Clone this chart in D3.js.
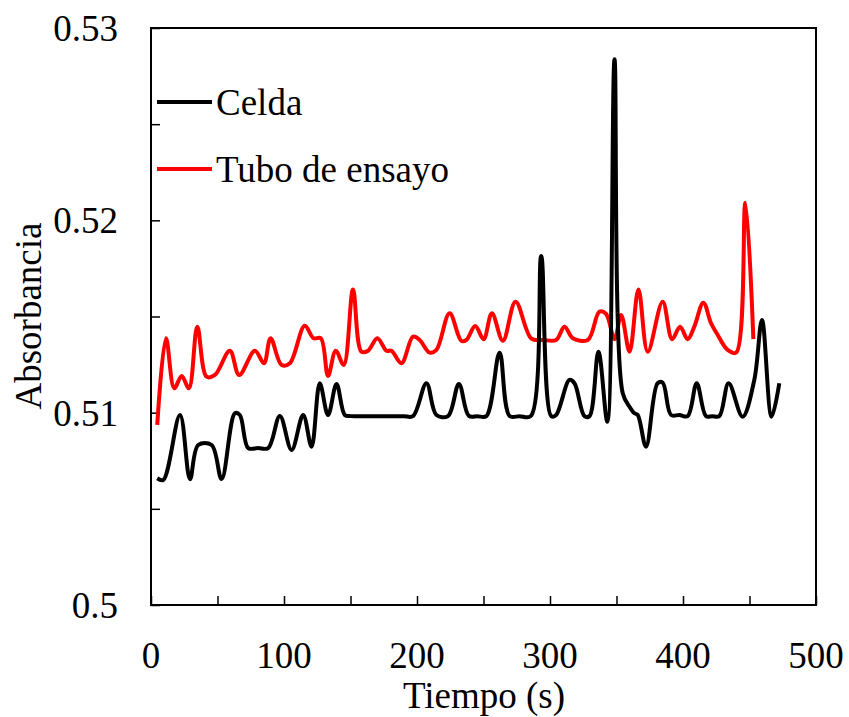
<!DOCTYPE html>
<html><head><meta charset="utf-8">
<script src="https://cdn.jsdelivr.net/npm/d3@7"></script>
<style>
html,body{margin:0;padding:0;background:#fff;}
text{font-family:"Liberation Serif","Times New Roman",serif;fill:#000;}
</style></head>
<body><svg id="c" width="849" height="717"></svg>
<script>
// Celda (black)
const celdaT = [4.7,9.2,21.8,29.3,35.5,45.6,53.1,63.1,66.8,73.1,80.5,88.1,96.9,105.7,114.4,120.7,126.9,133.1,139.5,145.7,150,160,170,180,190,197,207.1,214.6,223.3,231.5,239,245.5,252.1,262.1,269.6,277,285.5,293.4,300.9,304.6,314.6,318.4,325.9,329.7,336.4,343.1,348.5,354.7,359.8,363.5,366,372.2,380.9,384.7,391,397.3,403.5,410.3,417.3,422,427.3,434.3,444.8,453.6,459.4,466.6,472.4];
const celdaA = [0.50659,0.50650,0.50988,0.50654,0.50832,0.50832,0.50655,0.50997,0.50988,0.50816,0.50816,0.50816,0.50983,0.50806,0.50988,0.50823,0.51153,0.50988,0.51149,0.50988,0.50982,0.50982,0.50982,0.50982,0.50982,0.50982,0.51153,0.50988,0.50982,0.51149,0.50983,0.50982,0.50982,0.51312,0.50983,0.50982,0.50982,0.51815,0.50982,0.50988,0.51170,0.51153,0.50982,0.50982,0.51317,0.50953,0.52837,0.51101,0.51031,0.50997,0.50988,0.50823,0.51153,0.51156,0.50988,0.50988,0.50982,0.51153,0.50982,0.50982,0.50982,0.51153,0.50979,0.51170,0.51482,0.50979,0.51153];
// Tubo de ensayo (red)
const tuboT = [4.7,11.3,17.5,23.1,28.5,34.8,41.8,48.1,59.3,66.3,78.1,84.9,89.9,98.2,104.4,115.6,122.2,127.7,133.1,138.9,144.9,151.9,158.2,163.2,170.2,177,180.8,188.3,197,202,209.5,214.6,224.5,233.3,237.1,243.8,250.1,256.3,264.6,274.1,286,295,304.6,310.9,317.2,328.4,337.2,342.2,348.5,353.5,359.8,366.5,373.5,384.7,391.8,397.8,403.5,408.5,415.3,421.1,426.1,433.6,439.9,446.9,452.9];
const tuboA = [0.50936,0.51387,0.51127,0.51191,0.51127,0.51447,0.51187,0.51196,0.51322,0.51196,0.51322,0.51257,0.51387,0.51248,0.51257,0.51452,0.51387,0.51387,0.51191,0.51322,0.51248,0.51641,0.51317,0.51322,0.51387,0.51322,0.51322,0.51257,0.51395,0.51378,0.51312,0.51326,0.51517,0.51374,0.51378,0.51451,0.51382,0.51517,0.51374,0.51577,0.51385,0.51378,0.51378,0.51447,0.51387,0.51378,0.51525,0.51513,0.51382,0.51508,0.51317,0.51641,0.51317,0.51577,0.51382,0.51447,0.51382,0.51447,0.51572,0.51465,0.51404,0.51326,0.51312,0.52092,0.51382];
const xTicks = [0,100,200,300,400,500];
const yTicks = [0.5,0.51,0.52,0.53];
const seriesNames = ["Celda","Tubo de ensayo"];
const seriesColors = ["#000000","#ff0000"];

const svg = d3.select("#c");
const L=151,R=816,T=28,B=605;
const x = d3.scaleLinear().domain([0,500]).range([L,R]);
const y = d3.scaleLinear().domain([0.5,0.53]).range([B,T]);
const fs = 37;

// frame
svg.append("rect").attr("x",L).attr("y",T).attr("width",R-L).attr("height",B-T)
  .attr("fill","none").attr("stroke","#000").attr("stroke-width",2);

// y axis ticks (inward)
const yAxis = d3.axisRight(y).tickValues(d3.range(0.5,0.5301,0.005)).tickSize(9).tickFormat("");
const gy = svg.append("g").attr("transform",`translate(${L},0)`).call(yAxis);
gy.select(".domain").remove();
gy.selectAll("line").attr("stroke","#000").attr("stroke-width",1.5);
svg.append("g").selectAll("text").data(yTicks).join("text")
  .attr("x",L-33).attr("y",d=>y(d)).attr("dy","0.35em").attr("text-anchor","end")
  .attr("font-size",fs).text(d=>d3.format("")(+d.toFixed(2)));

// x axis ticks (inward)
const xAxis = d3.axisTop(x).tickValues(d3.range(0,501,50)).tickSize(9).tickFormat("");
const gx = svg.append("g").attr("transform",`translate(0,${B})`).call(xAxis);
gx.select(".domain").remove();
gx.selectAll("line").attr("stroke","#000").attr("stroke-width",1.5);
svg.append("g").selectAll("text").data(xTicks).join("text")
  .attr("x",d=>x(d)).attr("y",655).attr("dy","0.35em").attr("text-anchor","middle")
  .attr("font-size",fs).text(d=>d);

// axis titles
svg.append("text").attr("x",484).attr("y",695).attr("dy","0.35em").attr("text-anchor","middle")
  .attr("font-size",fs).text("Tiempo (s)");
svg.append("text").attr("transform","translate(28,316) rotate(-90)").attr("dy","0.35em")
  .attr("text-anchor","middle").attr("font-size",fs).text("Absorbancia");

// lines
const line = d3.line().x(d=>x(d[0])).y(d=>y(d[1])).curve(d3.curveCatmullRom.alpha(0.5));
const celda = celdaT.map((t,i)=>[t,celdaA[i]]);
const tubo = tuboT.map((t,i)=>[t,tuboA[i]]);
svg.append("path").datum(tubo).attr("d",line).attr("fill","none").attr("stroke",seriesColors[1]).attr("stroke-width",4).attr("stroke-linejoin","round");
svg.append("path").datum(celda).attr("d",line).attr("fill","none").attr("stroke",seriesColors[0]).attr("stroke-width",4).attr("stroke-linejoin","round");

// legend
const lg = svg.append("g");
[102,169].forEach((yy,i)=>{
  lg.append("line").attr("x1",157).attr("x2",212).attr("y1",yy).attr("y2",yy)
    .attr("stroke",seriesColors[i]).attr("stroke-width",4);
  lg.append("text").attr("x",216).attr("y",yy).attr("dy","0.35em").attr("font-size",fs).text(seriesNames[i]);
});
</script></body></html>
